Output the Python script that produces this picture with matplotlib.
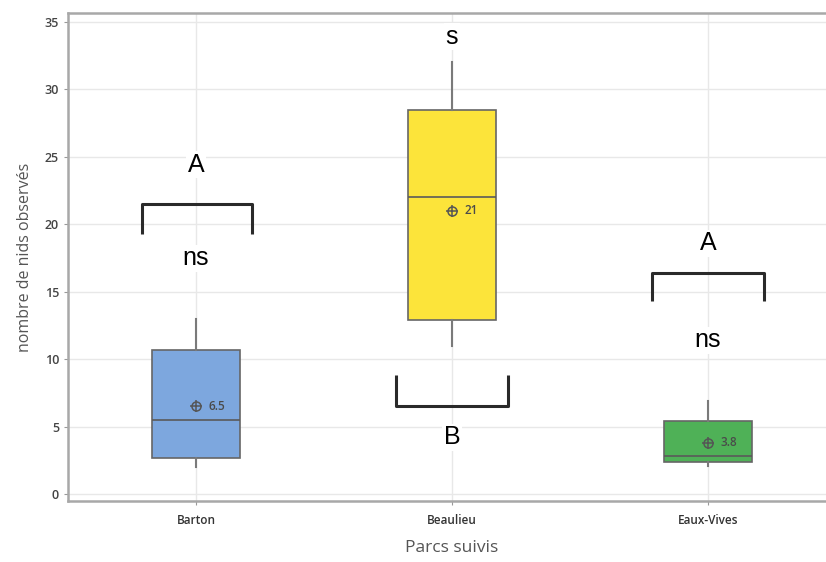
import matplotlib
matplotlib.use("Agg")
import matplotlib.pyplot as plt

# Nest counts per surveyed park (box summary statistics)
parks = ["Barton", "Beaulieu", "Eaux-Vives"]
whisker_low = [2.0, 11.0, 2.1]
q1 = [2.7, 12.9, 2.4]
median = [5.5, 22.0, 2.8]
q3 = [10.7, 28.5, 5.4]
whisker_high = [13.0, 32.0, 6.9]
means = [6.5, 21.0, 3.8]
mean_labels = ["6.5", "21", "3.8"]
colors = ["#7DA7DE", "#FCE43A", "#4FB157"]

# Group comparison annotations
group_letters = ["A", "B", "A"]
significance = ["ns", "s", "ns"]

plt.rcParams["font.family"] = ["Open Sans", "DejaVu Sans"]

fig = plt.figure(figsize=(8.26, 5.62), dpi=100)
ax = fig.add_axes([68 / 826, 1 - 501 / 562, (836 - 68) / 826, (501 - 13) / 562])

stats = []
for i, p in enumerate(parks):
    stats.append(dict(label=p, whislo=whisker_low[i], q1=q1[i], med=median[i],
                      q3=q3[i], whishi=whisker_high[i], mean=means[i], fliers=[]))

pos = list(range(len(parks)))
bp = ax.bxp(stats, positions=pos, widths=0.34, patch_artist=True,
            showmeans=False, showcaps=False,
            boxprops=dict(edgecolor="#666666", linewidth=1.2),
            medianprops=dict(color="#5a5a5a", linewidth=1.2),
            whiskerprops=dict(color="#7a7a7a", linewidth=1.5),
            zorder=3)
for patch, c in zip(bp["boxes"], colors):
    patch.set_facecolor(c)

# Mean markers (circle with crosshair) and their labels
for x, m, lab in zip(pos, means, mean_labels):
    ax.plot(x, m, marker="o", ms=6.5, mfc="none", mec="#555555", mew=1.1, zorder=5)
    ax.plot(x, m, marker="+", ms=8.5, color="#555555", mew=1.1, zorder=5)
    ax.text(x + 0.05, m, lab, fontsize=8.5, color="#4a4a4a", va="center",
            ha="left", fontweight="semibold", zorder=6)

ax.set_xlim(-0.5, 2.5)
ax.set_ylim(-0.52, 35.67)
ax.set_yticks(range(0, 36, 5))
ax.set_xticks(pos)
ax.set_xticklabels(parks, fontsize=8.5, color="#333333", fontweight="semibold")
ax.tick_params(axis="y", labelsize=9, length=3, color="#999999")
ax.tick_params(axis="x", length=3, color="#999999", pad=6)
for lab in ax.get_yticklabels():
    lab.set_color("#444444")
    lab.set_fontweight("semibold")

ax.grid(True, color="#e8e8e8", linewidth=1.0, zorder=0)
ax.set_axisbelow(True)
for s in ax.spines.values():
    s.set_color("#a8a8a8")
    s.set_linewidth(1.8)

ax.set_ylabel("nombre de nids observés", fontsize=11.5, color="#555555", labelpad=8)
ax.set_xlabel("Parcs suivis", fontsize=12.5, color="#555555", labelpad=10)

# Comparison brackets and labels
txt_kw = dict(ha="center", va="center", fontsize=18, color="black",
              family=["Liberation Sans", "DejaVu Sans"], zorder=7,
              bbox=dict(facecolor="white", edgecolor="none", pad=1))
bk = dict(color="#2a2a2a", linewidth=2.2, solid_capstyle="butt", zorder=7)

# Barton
ax.plot([-0.21, -0.21, 0.22, 0.22], [19.3, 21.5, 21.5, 19.3], **bk)
ax.text(0, 24.4, group_letters[0], **txt_kw)
ax.text(0, 17.5, significance[0], **txt_kw)

# Beaulieu
ax.plot([0.78, 0.78, 1.22, 1.22], [8.8, 6.55, 6.55, 8.8], **bk)
ax.text(1, 4.2, group_letters[1], **txt_kw)
ax.text(1, 33.9, significance[1], **txt_kw)

# Eaux-Vives
ax.plot([1.78, 1.78, 2.22, 2.22], [14.3, 16.4, 16.4, 14.3], **bk)
ax.text(2, 18.6, group_letters[2], **txt_kw)
ax.text(2, 11.4, significance[2], **txt_kw)

fig.savefig("out.png", dpi=100)
